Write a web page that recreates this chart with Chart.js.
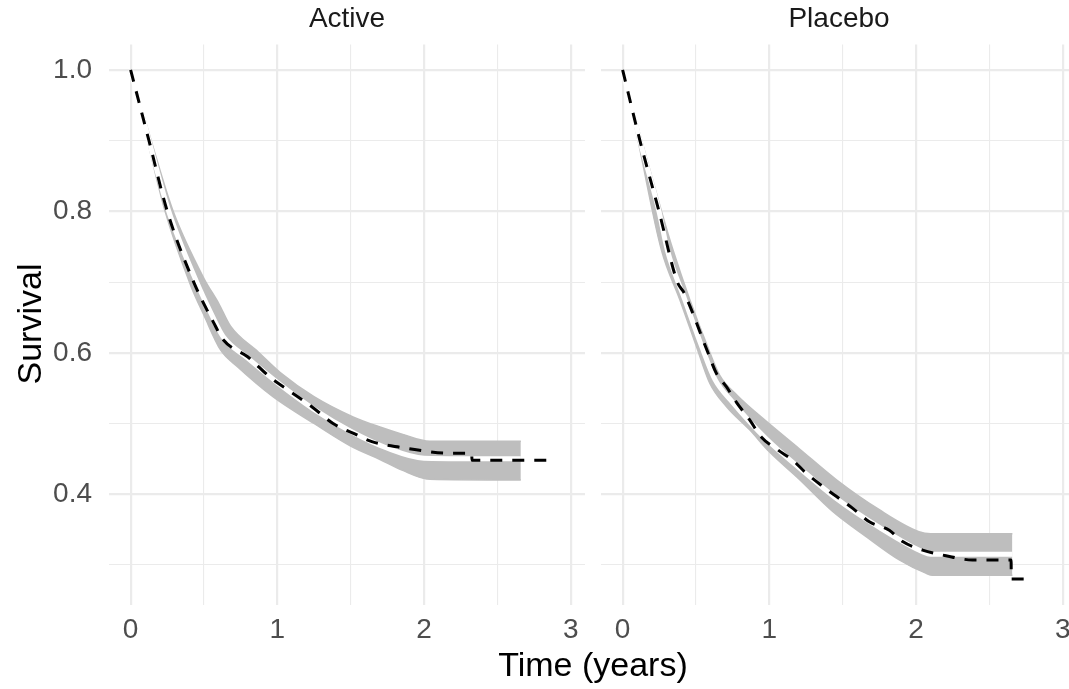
<!DOCTYPE html>
<html>
<head>
<meta charset="utf-8">
<script src="https://cdn.jsdelivr.net/npm/chart.js@4"></script>
<style>
  html, body { margin: 0; padding: 0; background: #fff; }
  #wrap { position: relative; width: 1069px; height: 689px; overflow: hidden; font-family: "Liberation Sans", Arial, sans-serif; }
  .box { position: absolute; top: 0; height: 689px; }
  .strip { position: absolute; top: 1px; height: 34px; line-height: 34px; font-size: 28px; color: #1a1a1a; text-align: center; }
  .axtitle { position: absolute; font-size: 34px; color: #000; text-align: center; height: 40px; line-height: 40px; white-space: nowrap; }
</style>
</head>
<body>
<div id="wrap">
  <div class="box" style="left:0;width:590px"><canvas id="cActive"></canvas></div>
  <div class="box" style="left:590px;width:490px"><canvas id="cPlacebo"></canvas></div>
  <div class="strip" style="left:109px;width:476px">Active</div>
  <div class="strip" style="left:601px;width:476px">Placebo</div>
  <div class="axtitle" style="left:293px;top:644px;width:600px">Time (years)</div>
  <div class="axtitle" style="left:-71.5px;top:304px;width:200px;transform:rotate(-90deg)">Survival</div>
</div>
<script>
// оси
const xTicks = [0, 0.5, 1, 1.5, 2, 2.5, 3];
const yTicks = [0.3, 0.4, 0.5, 0.6, 0.7, 0.8, 0.9, 1.0];

// Active: Kaplan-Meier (пунктир)
const activeKmT = [0, 0.125, 0.25, 0.43, 0.565, 0.633, 0.8, 0.953, 1.09, 1.246, 1.38, 1.52, 1.65, 1.82, 1.97, 2.16, 2.325, 2.327, 2.9];
const activeKmS = [1.0, 0.90, 0.80, 0.70, 0.643, 0.618, 0.594, 0.565, 0.545, 0.522, 0.50, 0.486, 0.474, 0.467, 0.462, 0.458, 0.458, 0.448, 0.448];
// Active: модель (белая линия) и полоса
const activeFitT = [0, 0.125, 0.26, 0.45, 0.55, 0.63, 0.8, 1.0, 1.25, 1.5, 1.75, 2.0, 2.66];
const activeFitS = [1.0, 0.90, 0.80, 0.70, 0.655, 0.623, 0.592, 0.558, 0.520, 0.489, 0.465, 0.451, 0.450];
const activeUpT = [0, 0.14, 0.29, 0.5, 0.6, 0.68, 0.87, 1.02, 1.25, 1.52, 1.7, 1.85, 2.04, 2.66];
const activeUpS = [1.0, 0.90, 0.80, 0.705, 0.67, 0.638, 0.601, 0.572, 0.538, 0.509, 0.495, 0.485, 0.475, 0.475];
const activeLoT = [0, 0.115, 0.235, 0.41, 0.5, 0.613, 0.73, 0.97, 1.25, 1.5, 1.7, 1.85, 2.04, 2.66];
const activeLoS = [1.0, 0.90, 0.80, 0.695, 0.653, 0.604, 0.58, 0.538, 0.50, 0.468, 0.449, 0.434, 0.421, 0.420];

// Placebo
const placeboKmT = [0, 0.118, 0.248, 0.373, 0.418, 0.582, 0.639, 0.707, 0.776, 0.866, 0.945, 1.059, 1.16, 1.25, 1.365, 1.456, 1.569, 1.682, 1.818, 1.909, 2.045, 2.204, 2.385, 2.648, 2.65, 2.8];
const placeboKmS = [1.0, 0.90, 0.80, 0.70, 0.685, 0.60, 0.571, 0.552, 0.53, 0.505, 0.481, 0.4625, 0.448, 0.430, 0.411, 0.397, 0.380, 0.361, 0.349, 0.333, 0.321, 0.313, 0.307, 0.307, 0.280, 0.280];
const placeboFitT = [0, 0.118, 0.248, 0.305, 0.424, 0.537, 0.63, 0.75, 0.98, 1.2, 1.45, 1.75, 2.05, 2.1, 2.657];
const placeboFitS = [1.0, 0.90, 0.80, 0.745, 0.675, 0.61, 0.562, 0.53, 0.478, 0.438, 0.395, 0.353, 0.318, 0.315, 0.315];
const placeboUpT = [0, 0.13, 0.265, 0.344, 0.458, 0.571, 0.662, 0.78, 0.98, 1.2, 1.46, 1.75, 2.02, 2.1, 2.657];
const placeboUpS = [1.0, 0.90, 0.80, 0.745, 0.675, 0.613, 0.568, 0.540, 0.503, 0.465, 0.42, 0.378, 0.347, 0.344, 0.344];
const placeboLoT = [0, 0.105, 0.265, 0.39, 0.503, 0.594, 0.707, 0.866, 1.0, 1.2, 1.43, 1.66, 1.886, 2.07, 2.113, 2.657];
const placeboLoS = [1.0, 0.90, 0.745, 0.675, 0.609, 0.557, 0.524, 0.491, 0.46, 0.422, 0.376, 0.340, 0.307, 0.288, 0.2855, 0.2855];

const GRAY = "#bebebe";
const GRID = "#ebebeb";

function pts(t, s) {
  return t.map((x, i) => ({ x: x, y: s[i] }));
}

function makeChart(id, d, showY, yWidth, padRight) {
  return new Chart(document.getElementById(id), {
    type: "line",
    data: {
      datasets: [
        { data: pts(d.loT, d.loS), borderColor: GRAY, borderWidth: 1.5, backgroundColor: GRAY, fill: "+1", order: 4 },
        { data: pts(d.upT, d.upS), borderColor: GRAY, borderWidth: 1.5, fill: false, order: 4 },
        { data: pts(d.fitT, d.fitS), borderColor: "#ffffff", borderWidth: 5, fill: false, order: 2 },
        { data: pts(d.kmT, d.kmS), borderColor: "#000000", borderWidth: 3, borderDash: [12, 10], fill: false, order: 1 }
      ]
    },
    options: {
      responsive: true,
      maintainAspectRatio: false,
      animation: false,
      elements: { point: { radius: 0 }, line: { cubicInterpolationMode: "monotone" } },
      layout: { padding: { top: 44.5, right: padRight, left: 0, bottom: 0 } },
      plugins: { legend: { display: false }, tooltip: { enabled: false } },
      scales: {
        x: {
          type: "linear",
          min: -0.1475,
          max: 3.0975,
          afterBuildTicks: s => { s.ticks = xTicks.map(v => ({ value: v })); },
          afterFit: s => { s.height = 84.5; },
          border: { display: false },
          grid: {
            drawTicks: false,
            color: GRID,
            lineWidth: c => (Number.isInteger(c.tick.value) ? 2.2 : 1.1)
          },
          ticks: {
            padding: 9,
            color: "#4d4d4d",
            font: { family: "Liberation Sans", size: 28 },
            maxRotation: 0,
            autoSkip: false,
            callback: v => (Number.isInteger(v) ? String(v) : "")
          }
        },
        y: {
          type: "linear",
          min: 0.244,
          max: 1.036,
          afterBuildTicks: s => { s.ticks = yTicks.map(v => ({ value: v })); },
          afterFit: s => { s.width = yWidth; },
          border: { display: false },
          grid: {
            drawTicks: false,
            color: GRID,
            lineWidth: c => (Math.round(c.tick.value * 10) % 2 === 0 ? 2.2 : 1.1)
          },
          ticks: {
            display: showY,
            padding: 17,
            color: "#4d4d4d",
            font: { family: "Liberation Sans", size: 28 },
            autoSkip: false,
            callback: v => (Math.round(v * 10) % 2 === 0 ? v.toFixed(1) : "")
          }
        }
      }
    }
  });
}

makeChart("cActive", {
  kmT: activeKmT, kmS: activeKmS, fitT: activeFitT, fitS: activeFitS,
  upT: activeUpT, upS: activeUpS, loT: activeLoT, loS: activeLoS
}, true, 109, 5);

makeChart("cPlacebo", {
  kmT: placeboKmT, kmS: placeboKmS, fitT: placeboFitT, fitS: placeboFitS,
  upT: placeboUpT, upS: placeboUpS, loT: placeboLoT, loS: placeboLoS
}, false, 11, 3);
</script>
</body>
</html>
